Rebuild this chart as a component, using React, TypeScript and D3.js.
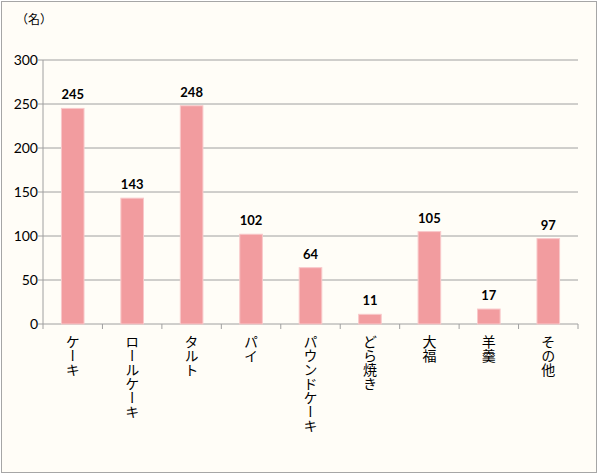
import React from 'react';
import { scaleBand, scaleLinear } from 'd3';

const categories = ['ケーキ', 'ロールケーキ', 'タルト', 'パイ', 'パウンドケーキ', 'どら焼き', '大福', '羊羹', 'その他'];
const counts = [245, 143, 248, 102, 64, 11, 105, 17, 97];
const yTicks = [0, 50, 100, 150, 200, 250, 300];

const W = 600;
const H = 475;
const left = 43;
const right = 578;
const top = 60;
const bottom = 324;

const App: React.FC = () => {
  const x = scaleBand<string>().domain(categories).range([left, right]).paddingInner(0.62).paddingOuter(0.31);
  const band = scaleBand<string>().domain(categories).range([left, right]);
  const y = scaleLinear().domain([0, 300]).range([bottom, top]);
  const jp = '"Noto Sans CJK JP", sans-serif';
  const num = 'Lato, "Open Sans", sans-serif';

  return (
    <svg width={W} height={H} style={{ position: 'absolute', left: 0, top: 0 }}>
      <rect x={1.5} y={1.5} width={595} height={471} fill="#fffdf7" stroke="#a6a6a6" strokeWidth={1} />
      <text x={16} y={24} fontSize={12} fontFamily={jp} fill="#000">（名）</text>

      {yTicks.map(t => (
        <g key={t}>
          <line x1={left - 5} x2={right} y1={y(t)} y2={y(t)} stroke="#a0a0a0" strokeWidth={1} />
          <text x={38} y={y(t)} dy="0.36em" textAnchor="end" fontSize={14} fontFamily={num} fill="#000">{t}</text>
        </g>
      ))}
      <line x1={left} x2={left} y1={top} y2={bottom + 5} stroke="#a0a0a0" strokeWidth={1} />
      {categories.map(c => (
        <line key={c} x1={(band(c) as number) + band.bandwidth()} x2={(band(c) as number) + band.bandwidth()} y1={bottom} y2={bottom + 5} stroke="#a0a0a0" strokeWidth={1} />
      ))}

      {categories.map((c, i) => (
        <g key={c}>
          <rect x={x(c)} y={y(counts[i])} width={x.bandwidth()} height={bottom - y(counts[i])} fill="#f29c9f" stroke="#f8c8ca" strokeWidth={1} />
          <text x={(x(c) as number) + x.bandwidth() / 2} y={y(counts[i]) - 9} textAnchor="middle" fontSize={13} fontWeight="bold" fontFamily={num} fill="#000">{counts[i]}</text>
          <text x={(x(c) as number) + x.bandwidth() / 2} y={335} fontSize={14} fontFamily={jp} fill="#000" style={{ writingMode: 'vertical-rl' }}>{c}</text>
        </g>
      ))}
    </svg>
  );
};

export default App;
